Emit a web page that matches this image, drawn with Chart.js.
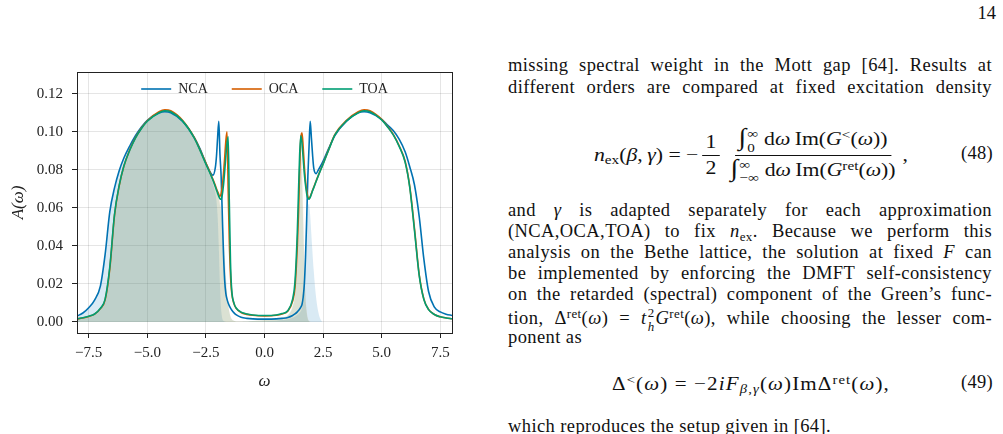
<!DOCTYPE html>
<html>
<head>
<meta charset="utf-8">
<script src="https://cdn.jsdelivr.net/npm/chart.js@4.4.1/dist/chart.umd.min.js"></script>
<style>
  html, body { margin: 0; padding: 0; background: #fff; }
  body { width: 1003px; height: 434px; overflow: hidden; position: relative; font-family: 'Liberation Serif', serif; color: #111; }
  #wrap { position: absolute; left: 0; top: 0; width: 470px; height: 400px; }
  .ln { position: absolute; left: 508px; width: 484px; font-size: 18.5px; letter-spacing: 0.4px; line-height: 21px; text-align: justify; text-align-last: justify; }
  .ln.end { text-align-last: left; }
  .pg { position: absolute; right: 7px; top: 3px; font-size: 18.5px; }
  sub, sup { font-size: 0.7em; line-height: 0; position: relative; vertical-align: baseline; }
  sub { top: 0.3em; }
  sup { top: -0.45em; }
  .eq { position: absolute; font-size: 18.5px; display: flex; align-items: center; white-space: nowrap; transform-origin: left center; }
  .frac { display: inline-flex; flex-direction: column; align-items: center; margin: 0 3px; }
  .frac > span { padding: 0 3px; line-height: 25px; }
  .frac > span:first-child { border-bottom: 1px solid #111; }
  .num { position: absolute; left: 961px; font-size: 18.5px; letter-spacing: 0.3px; }
  .st { display: inline-flex; flex-direction: column; font-size: 0.7em; line-height: 1.05; vertical-align: middle; margin: 0 5px 0 1px; }
  .int { font-size: 1.3em; }
</style>
</head>
<body>
<div id="wrap"><canvas id="myChart"></canvas></div>

<div class="pg">14</div>
<div class="ln" style="top:55px">missing spectral weight in the Mott gap [64]. Results at</div>
<div class="ln" style="top:77px">different orders are compared at fixed excitation density</div>

<div class="eq" data-w="314" style="left:594px; top:128px; height:54px;">
  <span><i>n</i><sub>ex</sub>(<i>β</i>,&thinsp;<i>γ</i>)&nbsp;=&nbsp;−</span>
  <span class="frac"><span>1</span><span>2</span></span>
  <span class="frac">
    <span><span class="int">∫</span><span class="st"><span>∞</span><span>0</span></span>d<i>ω</i>&thinsp;Im(<i>G</i><sup>&lt;</sup>(<i>ω</i>))</span>
    <span><span class="int">∫</span><span class="st"><span>∞</span><span>−∞</span></span>d<i>ω</i>&thinsp;Im(<i>G</i><sup>ret</sup>(<i>ω</i>))</span>
  </span><span>,</span>
</div>
<div class="num" style="top:143px">(48)</div>

<div class="ln" style="top:200px">and <i>γ</i> is adapted separately for each approximation</div>
<div class="ln" style="top:221px">(NCA,OCA,TOA) to fix <i>n</i><sub>ex</sub>. Because we perform this</div>
<div class="ln" style="top:242px">analysis on the Bethe lattice, the solution at fixed <i>F</i> can</div>
<div class="ln" style="top:263px">be implemented by enforcing the DMFT self-consistency</div>
<div class="ln" style="top:284px">on the retarded (spectral) component of the Green’s func-</div>
<div class="ln" style="top:306px">tion, Δ<sup>ret</sup>(<i>ω</i>) = <i>t</i><span class="st" style="margin:0 1px"><span>2</span><span><i>h</i></span></span><i>G</i><sup>ret</sup>(<i>ω</i>), while choosing the lesser com-</div>
<div class="ln end" style="top:327px">ponent as</div>

<div class="eq" data-w="278" style="left:612px; top:372px; height:24px; letter-spacing: 1px;">
  <span>Δ<sup>&lt;</sup>(<i>ω</i>)&nbsp;=&nbsp;−2<i>iF</i><sub><i>β</i>,<i>γ</i></sub>(<i>ω</i>)ImΔ<sup>ret</sup>(<i>ω</i>),</span>
</div>
<div class="num" style="top:372px">(49)</div>

<div class="ln end" style="top:416px">which reproduces the setup given in [64].</div>

<script>
// frequency grid (omega) and spectral functions
const omega = [
  -8, -7.75, -7.5, -7.25, -7, -6.8, -6.6, -6.4, -6.2, -6,
  -5.75, -5.5, -5.25, -5, -4.5, -4.25, -4, -3.5, -3, -2.75,
  -2.5, -2.25, -2.2, -2.1, -2.05, -2, -1.95, -1.9, -1.85, -1.8,
  -1.75, -1.7, -1.65, -1.6, -1.55, -1.5, -1.45, -1.4, -1.3, -1.2,
  -1, -0.75, -0.5, 0, 0.5, 0.75, 1, 1.2, 1.3, 1.4,
  1.45, 1.5, 1.55, 1.6, 1.65, 1.7, 1.75, 1.8, 1.85, 1.9,
  1.95, 2, 2.05, 2.1, 2.2, 2.3, 2.4, 2.5, 2.75, 3,
  3.5, 4, 4.25, 4.5, 5, 5.25, 5.5, 5.75, 6, 6.2,
  6.4, 6.6, 6.8, 7, 7.25, 7.5, 7.75, 8
];

const nca = [
  0.0031, 0.0047, 0.0075, 0.0115, 0.0190, 0.0355, 0.0580, 0.0705, 0.0795, 0.0862,
  0.0925, 0.0980, 0.1025, 0.1060, 0.1098, 0.1105, 0.1100, 0.1055, 0.0970, 0.0910,
  0.0835, 0.0775, 0.0772, 0.0810, 0.0870, 0.0970, 0.1055, 0.0880, 0.0765, 0.0560,
  0.0360, 0.0220, 0.0150, 0.0120, 0.0100, 0.0085, 0.0073, 0.0063, 0.0048, 0.0037,
  0.0025, 0.0019, 0.0016, 0.0015, 0.0016, 0.0019, 0.0024, 0.0034, 0.0042, 0.0053,
  0.0060, 0.0068, 0.0078, 0.0092, 0.0130, 0.0200, 0.0340, 0.0540, 0.0764, 0.0920,
  0.1055, 0.0970, 0.0880, 0.0810, 0.0780, 0.0800, 0.0822, 0.0845, 0.0915, 0.0980,
  0.1055, 0.1100, 0.1105, 0.1100, 0.1065, 0.1035, 0.1005, 0.0960, 0.0895, 0.0815,
  0.0720, 0.0555, 0.0330, 0.0160, 0.0078, 0.0053, 0.0041, 0.0034
];

const oca = [
  0.0016, 0.0021, 0.0029, 0.0041, 0.0070, 0.0116, 0.0280, 0.0560, 0.0715, 0.0820,
  0.0905, 0.0970, 0.1020, 0.1058, 0.1105, 0.1115, 0.1110, 0.1060, 0.0970, 0.0905,
  0.0835, 0.0765, 0.0750, 0.0718, 0.0700, 0.0685, 0.0670, 0.0660, 0.0675, 0.0715,
  0.0780, 0.0860, 0.0950, 0.1000, 0.0700, 0.0420, 0.0245, 0.0155, 0.0095, 0.0070,
  0.0050, 0.0040, 0.0035, 0.0032, 0.0035, 0.0042, 0.0058, 0.0110, 0.0180, 0.0400,
  0.0570, 0.0800, 0.0965, 0.0995, 0.0920, 0.0820, 0.0740, 0.0690, 0.0658, 0.0648,
  0.0658, 0.0675, 0.0692, 0.0708, 0.0740, 0.0772, 0.0802, 0.0832, 0.0910, 0.0985,
  0.1060, 0.1105, 0.1115, 0.1110, 0.1065, 0.1028, 0.0985, 0.0925, 0.0845, 0.0710,
  0.0490, 0.0250, 0.0120, 0.0066, 0.0039, 0.0027, 0.0021, 0.0017
];

const toa = [
  0.0017, 0.0022, 0.0030, 0.0042, 0.0072, 0.0120, 0.0290, 0.0565, 0.0718, 0.0820,
  0.0903, 0.0968, 0.1017, 0.1055, 0.1100, 0.1110, 0.1105, 0.1057, 0.0968, 0.0902,
  0.0830, 0.0760, 0.0745, 0.0712, 0.0694, 0.0676, 0.0660, 0.0648, 0.0645, 0.0670,
  0.0720, 0.0790, 0.0870, 0.0940, 0.0974, 0.0620, 0.0310, 0.0170, 0.0098, 0.0072,
  0.0052, 0.0042, 0.0037, 0.0034, 0.0037, 0.0044, 0.0060, 0.0120, 0.0210, 0.0470,
  0.0680, 0.0880, 0.0978, 0.0940, 0.0860, 0.0780, 0.0720, 0.0675, 0.0650, 0.0645,
  0.0655, 0.0672, 0.0690, 0.0705, 0.0738, 0.0770, 0.0800, 0.0830, 0.0908, 0.0982,
  0.1057, 0.1100, 0.1110, 0.1105, 0.1062, 0.1025, 0.0982, 0.0922, 0.0840, 0.0705,
  0.0480, 0.0245, 0.0118, 0.0065, 0.0039, 0.0027, 0.0021, 0.0017
];

// occupied (lesser) parts, drawn as shaded areas
const fillNca = [
  0.0031, 0.0047, 0.0075, 0.0115, 0.0190, 0.0355, 0.0580, 0.0705, 0.0795, 0.0862,
  0.0925, 0.0980, 0.1025, 0.1060, 0.1098, 0.1105, 0.1100, 0.1055, 0.0970, 0.0905,
  0.0820, 0.0745, 0.0725, 0.0680, 0.0640, 0.0560, 0.0400, 0.0200, 0.0070, 0.0020,
  0.0006, 0.0002, 0, 0, 0, 0, 0, 0, 0, 0,
  0, 0.0001, 0.0002, 0.0004, 0.0007, 0.0010, 0.0014, 0.0022, 0.0028, 0.0036,
  0.0042, 0.0049, 0.0058, 0.0072, 0.0105, 0.0170, 0.0300, 0.0480, 0.0600, 0.0620,
  0.0560, 0.0460, 0.0360, 0.0270, 0.0130, 0.0050, 0.0012, 0, 0, 0,
  0, 0, 0, 0, 0, 0, 0, 0, 0, 0,
  0, 0, 0, 0, 0, 0, 0, 0
];

const fillOca = [
  0.0016, 0.0021, 0.0029, 0.0041, 0.0070, 0.0116, 0.0280, 0.0560, 0.0715, 0.0820,
  0.0905, 0.0970, 0.1020, 0.1058, 0.1105, 0.1115, 0.1110, 0.1060, 0.0970, 0.0905,
  0.0835, 0.0765, 0.0750, 0.0715, 0.0695, 0.0675, 0.0655, 0.0630, 0.0600, 0.0550,
  0.0470, 0.0360, 0.0250, 0.0160, 0.0095, 0.0055, 0.0030, 0.0016, 0.0006, 0.0003,
  0.0002, 0.0003, 0.0005, 0.0010, 0.0016, 0.0022, 0.0035, 0.0078, 0.0135, 0.0320,
  0.0480, 0.0720, 0.0880, 0.0840, 0.0600, 0.0330, 0.0150, 0.0060, 0.0020, 0.0005,
  0.0001, 0, 0, 0, 0, 0, 0, 0, 0, 0,
  0, 0, 0, 0, 0, 0, 0, 0, 0, 0,
  0, 0, 0, 0, 0, 0, 0, 0
];

const fillToa = [
  0.0017, 0.0022, 0.0030, 0.0042, 0.0072, 0.0120, 0.0290, 0.0565, 0.0718, 0.0820,
  0.0903, 0.0968, 0.1017, 0.1055, 0.1100, 0.1110, 0.1105, 0.1057, 0.0968, 0.0902,
  0.0830, 0.0760, 0.0745, 0.0710, 0.0690, 0.0668, 0.0645, 0.0615, 0.0580, 0.0525,
  0.0445, 0.0340, 0.0235, 0.0150, 0.0090, 0.0052, 0.0028, 0.0015, 0.0006, 0.0003,
  0.0002, 0.0003, 0.0005, 0.0010, 0.0017, 0.0024, 0.0037, 0.0085, 0.0155, 0.0370,
  0.0560, 0.0780, 0.0870, 0.0760, 0.0520, 0.0280, 0.0125, 0.0050, 0.0016, 0.0004,
  0, 0, 0, 0, 0, 0, 0, 0, 0, 0,
  0, 0, 0, 0, 0, 0, 0, 0, 0, 0,
  0, 0, 0, 0, 0, 0, 0, 0
];

const xTicks = [-7.5, -5, -2.5, 0, 2.5, 5, 7.5];
const xTickLabels = ['−7.5', '−5.0', '−2.5', '0.0', '2.5', '5.0', '7.5'];
const yTicks = [0, 0.02, 0.04, 0.06, 0.08, 0.1, 0.12];
const yTickLabels = ['0.00', '0.02', '0.04', '0.06', '0.08', '0.10', '0.12'];

const blue = '#0072B2', orange = '#D55E00', green = '#009E73';

// stretch the display equations to the width they have in the page
document.querySelectorAll('.eq[data-w]').forEach(function (el) {
  var w = el.getBoundingClientRect().width;
  if (w > 0) el.style.transform = 'scaleX(' + (Number(el.dataset.w) / w) + ')';
});

function pts(arr) {
  return omega.map(function (w, i) { return {x: w, y: arr[i]}; });
}

function lineSet(label, arr, color, order) {
  return {
    label: label, data: pts(arr), borderColor: color, backgroundColor: color,
    borderWidth: 1.6, pointRadius: 0, fill: false,
    cubicInterpolationMode: 'monotone', order: order
  };
}
function fillSet(arr, color, order) {
  return {
    label: '', data: pts(arr), borderWidth: 0, borderColor: 'rgba(0,0,0,0)',
    backgroundColor: color, pointRadius: 0, fill: 'origin',
    cubicInterpolationMode: 'monotone', order: order
  };
}

// box around the plot area
const frame = {
  id: 'frame',
  afterDatasetsDraw(chart) {
    const a = chart.chartArea, c = chart.ctx;
    c.save();
    c.strokeStyle = '#222';
    c.lineWidth = 1;
    c.strokeRect(Math.round(a.left) + 0.5, Math.round(a.top) + 0.5, Math.round(a.right - a.left), Math.round(a.bottom - a.top));
    c.restore();
  }
};

// legend drawn inside the axes, takes no layout space
const legendInside = {
  id: 'legendInside',
  beforeInit(chart) {
    if (!chart.legend) return;
    const fit = chart.legend.fit;
    chart.legend.fit = function () {
      fit.bind(chart.legend)();
      this.height = 0;
    };
  },
  afterLayout(chart) {
    if (!chart.legend) return;
    chart.legend.top = 58;
    chart.legend.bottom = 112;
    chart.legend.height = 54;
  }
};

const ctx = document.getElementById('myChart');
const serif = "'Liberation Serif', serif";

new Chart(ctx, {
  type: 'line',
  data: {
    datasets: [
      lineSet('NCA', nca, blue, 2),
      lineSet('OCA', oca, orange, 1),
      lineSet('TOA', toa, green, 0),
      fillSet(fillNca, 'rgba(0,114,178,0.15)', 5),
      fillSet(fillOca, 'rgba(213,94,0,0.12)', 4),
      fillSet(fillToa, 'rgba(0,158,115,0.12)', 3)
    ]
  },
  options: {
    responsive: true,
    maintainAspectRatio: false,
    animation: false,
    layout: { padding: { left: 0, top: 72, right: 18, bottom: 0 } },
    plugins: {
      tooltip: { enabled: false },
      legend: {
        position: 'top',
        fullSize: false,
        labels: {
          filter: function (item) { return item.text !== ''; },
          sort: function (a, b) { return a.datasetIndex - b.datasetIndex; },
          usePointStyle: true,
          pointStyle: 'line',
          pointStyleWidth: 30,
          padding: 24,
          color: '#222',
          font: { family: serif, size: 14 }
        }
      }
    },
    scales: {
      x: {
        type: 'linear',
        min: -8, max: 8,
        afterBuildTicks: function (scale) { scale.ticks = xTicks.map(function (v) { return {value: v}; }); },
        afterFit: function (scale) { scale.height = 67; },
        ticks: {
          color: '#222', padding: 6, maxRotation: 0,
          font: { family: serif, size: 15 },
          callback: function (v) { return xTickLabels[xTicks.indexOf(v)]; }
        },
        grid: { color: 'rgba(0,0,0,0.1)', tickColor: '#222', tickLength: 5 },
        border: { color: '#222', width: 1 },
        title: { display: true, text: 'ω', color: '#222', padding: { top: 0, bottom: 8 }, font: { family: serif, size: 17, style: 'italic' } }
      },
      y: {
        min: -0.0058, max: 0.1314,
        afterBuildTicks: function (scale) { scale.ticks = yTicks.map(function (v) { return {value: v}; }); },
        afterFit: function (scale) { scale.width = 77; },
        ticks: {
          color: '#222', padding: 9,
          font: { family: serif, size: 15 },
          callback: function (v) { return yTickLabels[yTicks.indexOf(v)]; }
        },
        grid: { color: 'rgba(0,0,0,0.1)', tickColor: '#222', tickLength: 5 },
        border: { color: '#222', width: 1 },
        title: { display: true, text: 'A(ω)', color: '#222', padding: { top: 8 }, font: { family: serif, size: 17, style: 'italic' } }
      }
    }
  },
  plugins: [frame, legendInside]
});
</script>
</body>
</html>
